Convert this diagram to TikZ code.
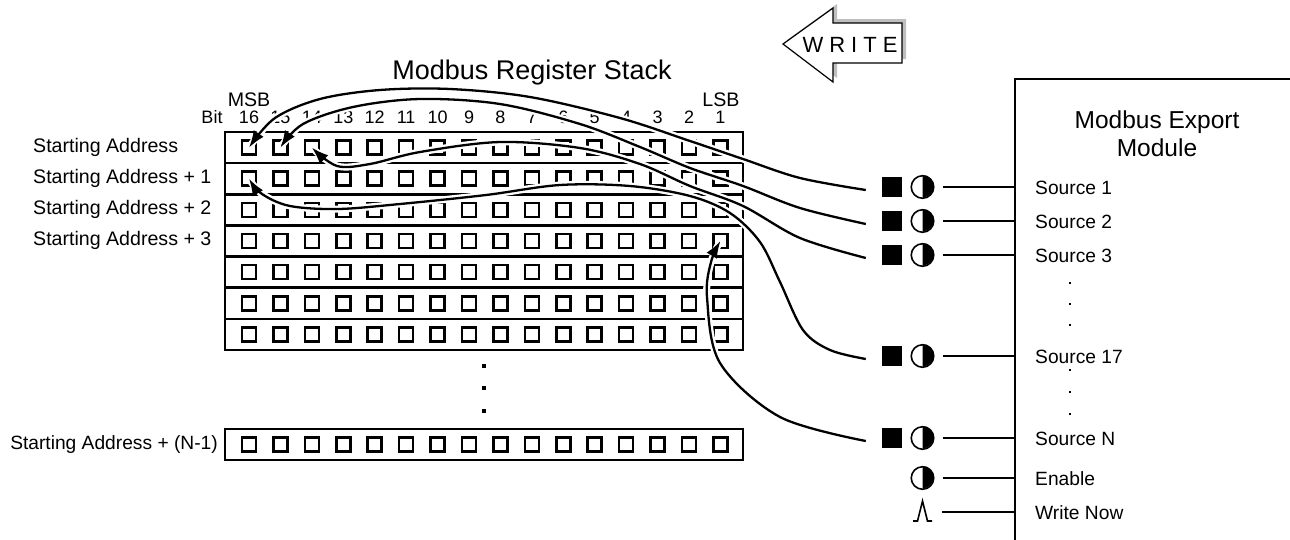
\documentclass[tikz,border=0pt]{standalone}
\usepackage{fontspec}
\setmainfont{Liberation Sans}
\usetikzlibrary{arrows.meta,calc}
\begin{document}
\begin{tikzpicture}[x=1pt,y=-1pt,
  frame/.style={line width=2.6pt},
  cell/.style={draw, line width=2.5pt, minimum size=14pt, inner sep=0pt},
  lbl/.style={font=\fontsize{19.6}{22}\selectfont, inner sep=0pt},
  srclbl/.style={font=\fontsize{19.2}{22}\selectfont, inner sep=0pt},
  bitlbl/.style={font=\fontsize{18}{20}\selectfont, inner sep=0pt},
  conn/.style={line width=2.3pt, preaction={draw=white, line width=7pt, arrows=-}, -{Latex[length=17pt,width=12pt]}},
  wire/.style={line width=2.3pt},
  sq/.style={fill=black, minimum size=20pt, inner sep=0pt},
  half/.style={circle, draw, line width=1.6pt, minimum size=22.5pt, inner sep=0pt},
  dotm/.style={fill=black, minimum size=2.8pt, inner sep=0pt},
  dotr/.style={fill=black, minimum size=3.8pt, inner sep=0pt}
]
\useasboundingbox (0,0) rectangle (1290,539);

% ---------- WRITE arrow ----------
\fill[gray!50] (787,40) -- (837,4) -- (837,19) -- (906,19) -- (906,59) -- (837,59) -- (837,78) -- cycle;
\draw[line width=1.2pt, fill=white] (783,44) -- (833,8) -- (833,23) -- (902,23) -- (902,63) -- (833,63) -- (833,82) -- cycle;
\node[font=\fontsize{22}{24}\selectfont, inner sep=0pt] (write) at (850,45) {W\hspace{6pt}R\hspace{6pt}I\hspace{6pt}T\hspace{6pt}E};

% ---------- register stack ----------
\node[font=\fontsize{27}{30}\selectfont, inner sep=0pt] (title) at (532,73) {Modbus Register Stack};
\node[lbl] (msb) at (249,100) {MSB};
\node[lbl] (lsb) at (721,100) {LSB};
\node[bitlbl] (bitw) at (212,117) {Bit};
\foreach \b in {1,...,16} {
  \node[bitlbl] (bit\b) at ({249+(16-\b)*31.43},117) {\b};
}
\draw[frame] (225,132) rectangle (743,350);
\foreach \k in {1,...,6} {
  \draw[frame] (225,{132+31.14*\k}) -- (743,{132+31.14*\k});
}
\foreach \r in {0,...,6} {
  \foreach \b in {1,...,16} {
    \node[cell] (c\r-\b) at ({249+(16-\b)*31.43},{132+31.14*(\r+0.5)}) {};
  }
}
\draw[frame] (225,429) rectangle (743,460);
\foreach \b in {1,...,16} {
  \node[cell] (cN-\b) at ({249+(16-\b)*31.43},444.5) {};
}
\node[lbl, anchor=west] (l0) at (33,147) {Starting Address};
\node[lbl, anchor=west] (l1) at (33,178.5) {Starting Address + 1};
\node[lbl, anchor=west] (l2) at (33,209.5) {Starting Address + 2};
\node[lbl, anchor=west] (l3) at (33,240.5) {Starting Address + 3};
\node[srclbl, anchor=east] (lN) at (218,444.5) {Starting Address + (N-1)};
\node[dotr] (vd1) at (484,366) {};
\node[dotr] (vd2) at (484,388) {};
\node[dotr] (vd3) at (484,411) {};

% ---------- module ----------
\coordinate (mcorner) at (1015,79);
\draw[frame] (1295,79) -- (mcorner) -- (1015,545);
\node[font=\fontsize{24.5}{28}\selectfont, align=center, inner sep=0pt] (mtitle) at (1157,134) {Modbus Export\\Module};

\foreach \n/\y in {1/187,2/221,3/255,17/356,N/438} {
  \node[sq] (q\n) at (892,\y) {};
  \node[half] (h\n) at (922.5,\y) {};
  \fill (h\n.north) arc[start angle=90, end angle=-90, radius=11.25pt] -- cycle;
  \draw[wire] ([xshift=8pt]h\n.east) -- (h\n.east -| mcorner);
  \node[srclbl, anchor=west] (s\n) at (1035,\y+1) {Source \n};
  \coordinate (e\n) at ([xshift=-16pt,yshift=-3pt]q\n.west);
}
\node[half] (hen) at (922.5,478) {};
\fill (hen.north) arc[start angle=90, end angle=-90, radius=11.25pt] -- cycle;
\draw[wire] ([xshift=8pt]hen.east) -- (hen.east -| mcorner);
\node[srclbl, anchor=west] (sen) at (1035,479) {Enable};

\coordinate (wn) at (922.5,512);
\draw[line width=1.6pt] (913,521) -- (917.5,521) -- (922.5,501) -- (927.5,521) -- (932,521);
\draw[wire] ([xshift=19.5pt]wn) -- (wn -| mcorner);
\node[srclbl, anchor=west] (swn) at (1035,513) {Write Now};

\foreach \y [count=\i] in {283,304,325,370,392,414} {
  \node[dotm] (md\i) at (1070,\y) {};
}

% ---------- curves ----------
\draw[conn] plot[smooth, tension=0.55] coordinates {(e1) (800,178) (743,159) (690,141) (620,118) (530,97) (450,89) (380,90) (320,99) (275,118) (c0-16.center)};
\draw[conn] plot[smooth, tension=0.55] coordinates {(e2) (800,208) (743,186) (690,168) (640,147) (580,124) (500,104) (420,99) (353,107) (303,124) (c0-15.center)};
\draw[conn] plot[smooth, tension=0.55] coordinates {(e3) (800,238) (743,206) (690,186) (640,164) (580,148) (500,142) (420,152) (370,164) (337,166) (c0-14.center)};
\draw[conn] plot[smooth, tension=0.55] coordinates {(e17) (830,350) (803,330) (780,282) (760,242) (730,213) (690,196) (630,186) (560,185) (486,195) (400,204) (338,209) (290,206) (262,194) (c1-16.center)};
\draw[conn] plot[smooth, tension=0.55] coordinates {(eN) (780,417) (720,363) (707,297) (711,262) (c3-1.center)};
\end{tikzpicture}
\end{document}
